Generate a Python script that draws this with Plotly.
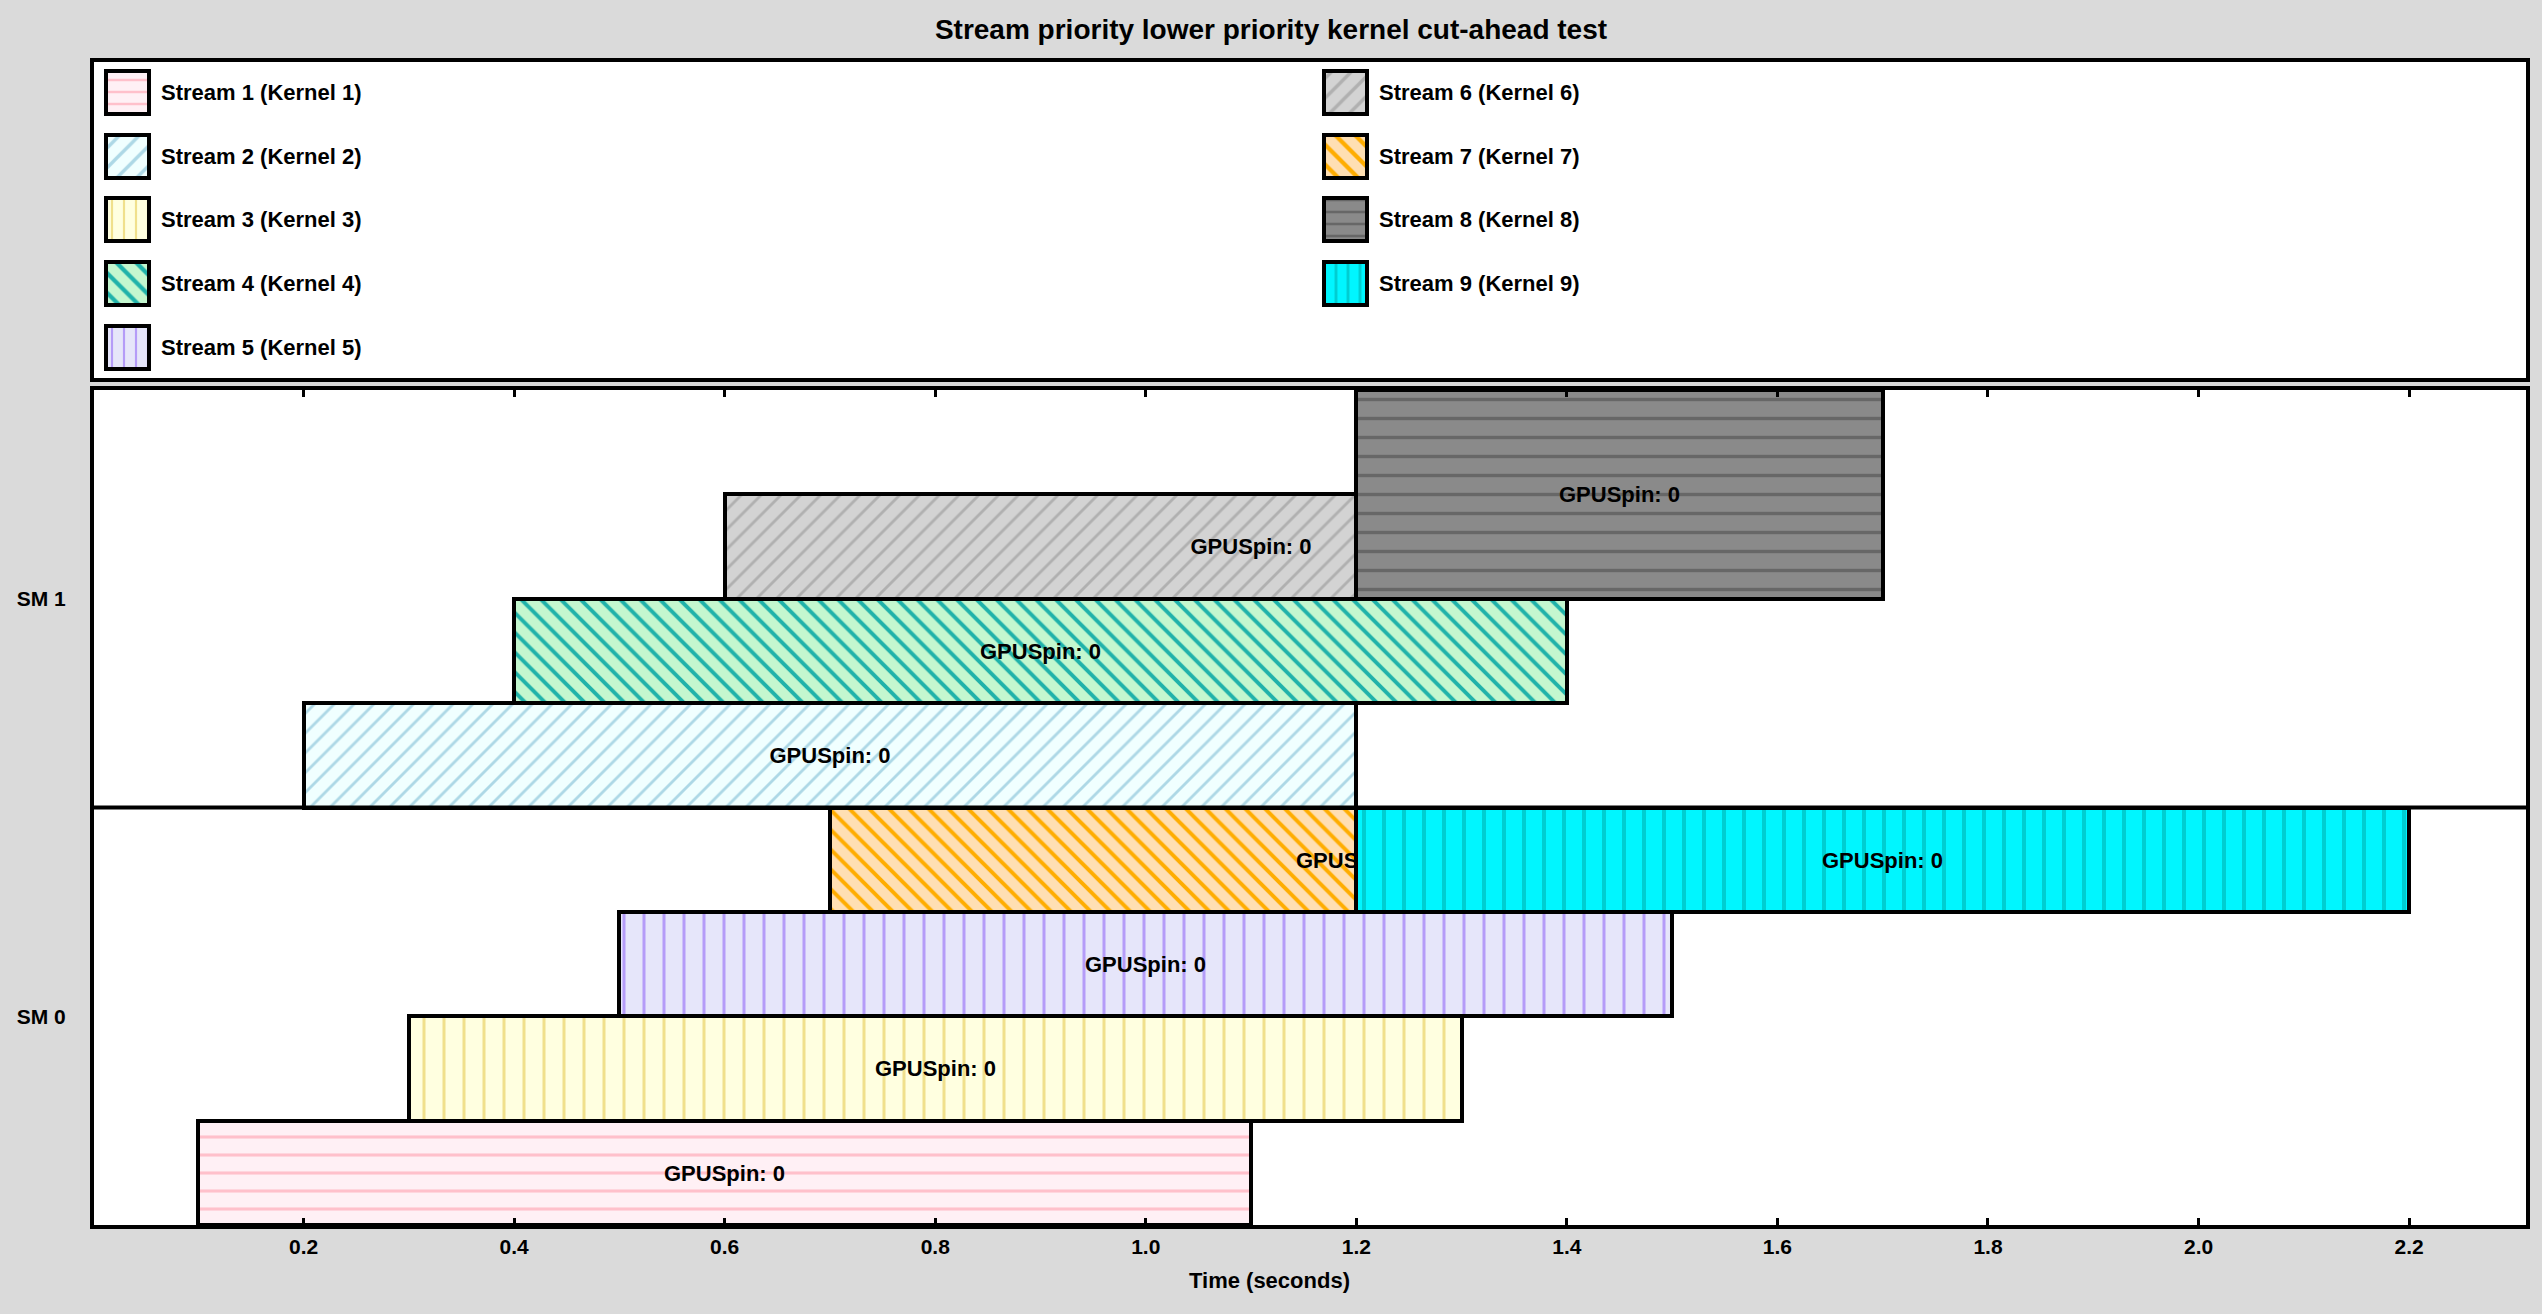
import plotly.graph_objects as go

# ---------------- data ----------------
streams = ["Stream 1", "Stream 2", "Stream 3", "Stream 4", "Stream 5",
           "Stream 6", "Stream 7", "Stream 8", "Stream 9"]
kernels = ["Kernel 1", "Kernel 2", "Kernel 3", "Kernel 4", "Kernel 5",
           "Kernel 6", "Kernel 7", "Kernel 8", "Kernel 9"]
start_s = [0.1, 0.2, 0.3, 0.4, 0.5, 0.6, 0.7, 1.2, 1.2]
end_s = [1.1, 1.2, 1.3, 1.4, 1.5, 1.6, 1.7, 1.7, 2.2]
row_lo = [0, 4, 1, 5, 2, 6, 3, 6, 3]
row_hi = [1, 5, 2, 6, 3, 7, 4, 8, 4]
bar_labels = ["GPUSpin: 0"] * 9
sm_names = ["SM 0", "SM 1"]
rows_per_sm = 4
x_ticks = [0.2, 0.4, 0.6, 0.8, 1.0, 1.2, 1.4, 1.6, 1.8, 2.0, 2.2]

fill_colors = ["#fff0f5", "#f0ffff", "#ffffe0", "#c4f7cf", "#e6e6fa",
               "#d3d3d3", "#ffdfb3", "#8a8a8a", "#00f6ff"]
line_colors = ["#ffc0cb", "#add8e6", "#f0e08c", "#20b2aa", "#b59cf8",
               "#b0b0b0", "#ffad00", "#676767", "#00ced1"]
pat_shapes = ["-", "/", "|", "\\", "|", "/", "\\", "-", "|"]
pat_sizes = [18, 14, 20, 14, 20, 14, 14, 19, 20]
pat_solid = [0.17, 0.2, 0.15, 0.28, 0.15, 0.2, 0.28, 0.18, 0.2]

FONT = "Liberation Sans"
W, H = 2542, 1314
ML, MR, MT, MB = 94, 12, 62, 89
plot_h = H - MT - MB
main_top_px, main_bot_px = 390, H - MB
leg_top_px, leg_bot_px = MT, 378
x_zero_px, px_per_unit = 93, 1054.5


def py(px):
    return (H - MB - px) / plot_h


fig = go.Figure()

# main bars
for i in range(len(streams)):
    fig.add_trace(go.Bar(
        orientation="h",
        base=[start_s[i]],
        x=[end_s[i] - start_s[i]],
        y=[(row_lo[i] + row_hi[i]) / 2],
        width=[row_hi[i] - row_lo[i]],
        text=[bar_labels[i]],
        textposition="inside",
        insidetextanchor="middle",
        textangle=0,
        constraintext="none",
        textfont=dict(family=FONT, size=22, color="black", weight="bold"),
        marker=dict(
            color=fill_colors[i],
            line=dict(color="black", width=4),
            pattern=dict(shape=pat_shapes[i], fgcolor=line_colors[i],
                         bgcolor=fill_colors[i], size=pat_sizes[i],
                         solidity=pat_solid[i], fillmode="replace"),
        ),
        name=f"{streams[i]} ({kernels[i]})",
        showlegend=False,
        hoverinfo="skip",
        xaxis="x", yaxis="y",
    ))

# legend swatches (drawn in a pixel-scaled helper subplot)
n_col1 = 5
row_y = [92, 156, 219, 283, 347]
col_x = [106, 1326]
sw = 43
for i in range(len(streams)):
    c, r = divmod(i, n_col1)
    small = pat_sizes[i] if pat_shapes[i] in ("/", "\\") else 12
    fig.add_trace(go.Bar(
        orientation="h",
        base=[col_x[c]], x=[sw], y=[row_y[r]], width=[sw],
        marker=dict(
            color=fill_colors[i],
            line=dict(color="black", width=4),
            pattern=dict(shape=pat_shapes[i], fgcolor=line_colors[i],
                         bgcolor=fill_colors[i], size=small,
                         solidity=min(0.3, pat_solid[i] * 1.2), fillmode="replace"),
        ),
        showlegend=False, hoverinfo="skip",
        xaxis="x2", yaxis="y2",
    ))
    fig.add_annotation(
        x=col_x[c] + sw + 10, y=row_y[r], xref="x2", yref="y2",
        text=f"{streams[i]} ({kernels[i]})", showarrow=False,
        xanchor="left", yanchor="middle",
        font=dict(family=FONT, size=22, color="black", weight="bold"),
    )

# SM divider
for k in range(1, len(sm_names)):
    fig.add_shape(type="line", xref="paper", yref="y",
                  x0=0, x1=1, y0=k * rows_per_sm, y1=k * rows_per_sm,
                  line=dict(color="black", width=4), layer="above")

# x-axis title (centered on page like the reference)
fig.add_annotation(
    x=(W / 2 - ML) / (W - ML - MR), y=py(1281), xref="paper", yref="paper",
    text="Time (seconds)", showarrow=False, xanchor="center", yanchor="middle",
    font=dict(family=FONT, size=22, color="black", weight="bold"),
)

fig.update_layout(
    width=W, height=H,
    margin=dict(l=ML, r=MR, t=MT, b=MB),
    paper_bgcolor="#dadada",
    plot_bgcolor="white",
    barmode="overlay",
    bargap=0,
    showlegend=False,
    font=dict(family=FONT, size=21, color="black", weight="bold"),
    title=dict(text="Stream priority lower priority kernel cut-ahead test",
               x=0.5, xref="container", xanchor="center",
               y=1 - 29 / H, yref="container", yanchor="middle",
               font=dict(family=FONT, size=28, color="black", weight="bold")),
    xaxis=dict(
        domain=[0, 1],
        range=[(ML - x_zero_px) / px_per_unit, (W - MR - x_zero_px) / px_per_unit],
        tickvals=x_ticks, ticktext=[f"{v:.1f}" for v in x_ticks],
        ticks="inside", ticklen=7, tickwidth=3, tickcolor="black",
        showline=True, linewidth=4, linecolor="black", mirror="ticks",
        showgrid=False, zeroline=False,
        tickfont=dict(family=FONT, size=21, color="black", weight="bold"),
        anchor="y",
    ),
    yaxis=dict(
        domain=[py(main_bot_px), py(main_top_px)],
        range=[0, rows_per_sm * len(sm_names)],
        tickvals=[rows_per_sm * (k + 0.5) for k in range(len(sm_names))],
        ticktext=sm_names, ticks="",
        showline=True, linewidth=4, linecolor="black", mirror=True,
        showgrid=False, zeroline=False, ticklabelstandoff=20,
        tickfont=dict(family=FONT, size=21, color="black", weight="bold"),
        anchor="x",
    ),
    xaxis2=dict(
        domain=[0, 1], range=[ML, W - MR], anchor="y2",
        showline=True, linewidth=4, linecolor="black", mirror=True,
        showticklabels=False, ticks="", showgrid=False, zeroline=False,
    ),
    yaxis2=dict(
        domain=[py(leg_bot_px), py(leg_top_px)], range=[leg_bot_px, leg_top_px],
        anchor="x2",
        showline=True, linewidth=4, linecolor="black", mirror=True,
        showticklabels=False, ticks="", showgrid=False, zeroline=False,
    ),
)

fig.write_html("out.html")
